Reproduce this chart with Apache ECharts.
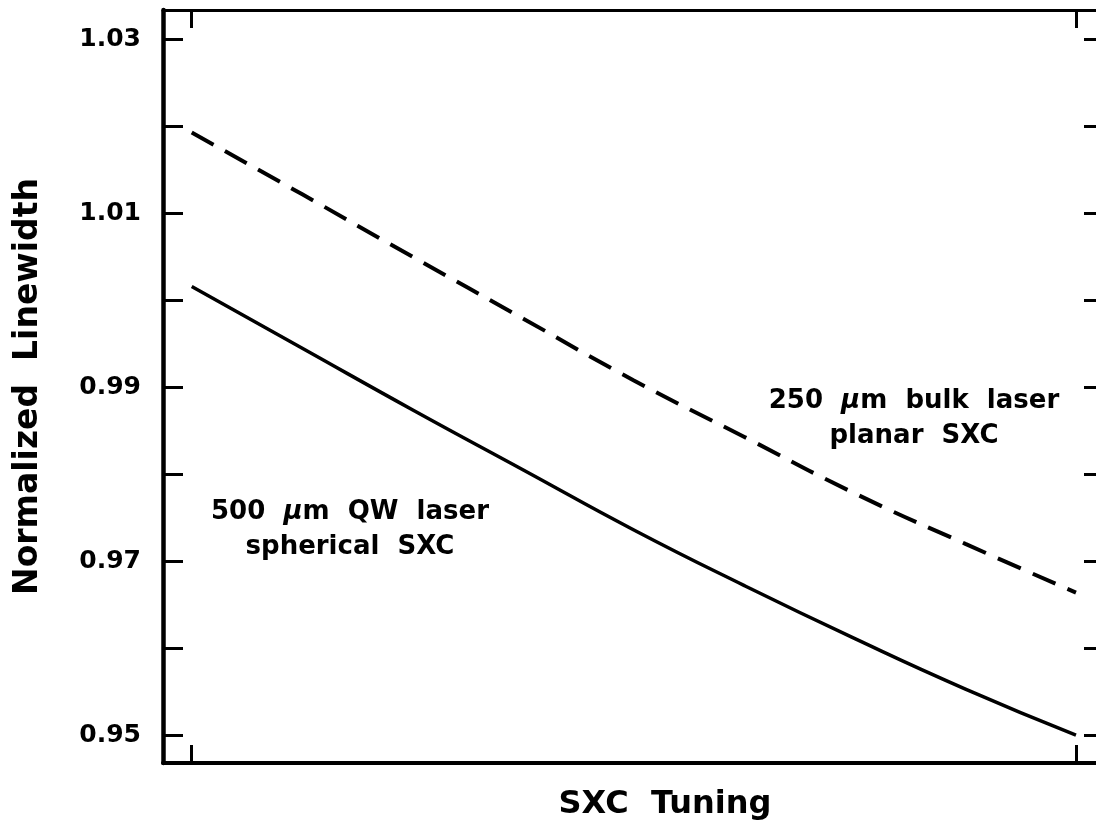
<!DOCTYPE html>
<html>
<head>
<meta charset="utf-8">
<script src="https://cdn.jsdelivr.net/npm/echarts@6/dist/echarts.min.js"></script>
<style>
html,body{margin:0;padding:0;background:#fff;}
#chart{width:1096px;height:839px;}
</style>
</head>
<body>
<div id="chart"></div>
<script>
// ---- data ----
const tuning = [0, 0.125, 0.25, 0.375, 0.5, 0.625, 0.75, 0.875, 1.0];
const qwSpherical = [1.0016, 0.9945, 0.9874, 0.9805, 0.9736, 0.9672, 0.9611, 0.9553, 0.9500];
const bulkPlanar  = [1.0193, 1.0122, 1.0050, 0.9979, 0.9908, 0.9843, 0.9778, 0.9720, 0.9664];
const yTickValues = [0.95, 0.96, 0.97, 0.98, 0.99, 1.00, 1.01, 1.02, 1.03];
const yLabelValues = [0.95, 0.97, 0.99, 1.01, 1.03];
const xTickValues = [0, 1];
const xTitle = 'SXC  Tuning';
const yTitle = 'Normalized  Linewidth';
const noteBulk = ['250  {mu|μ}m  bulk  laser', 'planar  SXC'];
const noteQW = ['500  {mu|μ}m  QW  laser', 'spherical  SXC'];

const FONT = '"DejaVu Sans", sans-serif';
const chart = echarts.init(document.getElementById('chart'), null, {renderer: 'canvas'});

const xRange = [-0.0325, 1.0317];
const yRange = [0.9468, 1.0334];

const tickStyle = {color: '#000', width: 3};
const richMu = {mu: {fontStyle: 'italic', fontWeight: 'bold', fontSize: 26, fontFamily: FONT}};

const option = {
  backgroundColor: '#fff',
  animation: false,
  grid: {left: 163, top: 10, right: -8, bottom: 76, containLabel: false, outerBoundsMode: 'none'},
  xAxis: [
    {
      type: 'value', position: 'bottom', min: xRange[0], max: xRange[1],
      axisLine: {show: true, onZero: false, lineStyle: {color: '#000', width: 4}},
      axisTick: {show: true, inside: true, length: 18, customValues: xTickValues, lineStyle: tickStyle},
      axisLabel: {show: false},
      splitLine: {show: false}
    },
    {
      type: 'value', position: 'top', min: xRange[0], max: xRange[1],
      axisLine: {show: true, onZero: false, lineStyle: {color: '#000', width: 3}},
      axisTick: {show: true, inside: true, length: 18, customValues: xTickValues, lineStyle: tickStyle},
      axisLabel: {show: false},
      splitLine: {show: false}
    }
  ],
  yAxis: [
    {
      type: 'value', position: 'left', min: yRange[0], max: yRange[1],
      name: yTitle, nameLocation: 'middle', nameGap: 118, nameRotate: 90,
      nameTextStyle: {fontFamily: FONT, fontWeight: 'bold', fontSize: 33, color: '#000'},
      axisLine: {show: true, onZero: false, lineStyle: {color: '#000', width: 4.5}},
      axisTick: {show: true, inside: true, length: 20, customValues: yTickValues, lineStyle: tickStyle},
      axisLabel: {show: true, margin: 22, customValues: yLabelValues, fontFamily: FONT, fontWeight: 'bold', fontSize: 25, color: '#000',
        formatter: v => v.toFixed(2)},
      splitLine: {show: false}
    },
    {
      type: 'value', position: 'right', min: yRange[0], max: yRange[1],
      axisLine: {show: true, onZero: false, lineStyle: {color: '#000', width: 4}},
      axisTick: {show: true, inside: true, length: 20, customValues: yTickValues, lineStyle: tickStyle},
      axisLabel: {show: false},
      splitLine: {show: false}
    }
  ],
  series: [
    {
      name: '500 μm QW laser spherical SXC', type: 'line', xAxisIndex: 0, yAxisIndex: 0,
      data: tuning.map((x, i) => [x, qwSpherical[i]]),
      smooth: true, showSymbol: false,
      lineStyle: {color: '#000', width: 3.5}
    },
    {
      name: '250 μm bulk laser planar SXC', type: 'line', xAxisIndex: 0, yAxisIndex: 0,
      data: tuning.map((x, i) => [x, bulkPlanar[i]]),
      smooth: true, showSymbol: false,
      lineStyle: {color: '#000', width: 4, type: [25, 13]}
    }
  ],
  graphic: [
    {
      type: 'text', x: 665, y: 805,
      style: {
        text: xTitle, align: 'center', verticalAlign: 'middle',
        font: 'bold 32px "DejaVu Sans", sans-serif', fill: '#000'
      }
    },
    {
      type: 'text', x: 914, y: 419,
      style: {
        text: noteBulk.join('\n'), align: 'center', verticalAlign: 'middle',
        font: 'bold 26px "DejaVu Sans", sans-serif', fill: '#000', lineHeight: 35,
        rich: richMu
      }
    },
    {
      type: 'text', x: 350, y: 530,
      style: {
        text: noteQW.join('\n'), align: 'center', verticalAlign: 'middle',
        font: 'bold 26px "DejaVu Sans", sans-serif', fill: '#000', lineHeight: 35,
        rich: richMu
      }
    }
  ]
};
chart.setOption(option);
</script>
</body>
</html>
